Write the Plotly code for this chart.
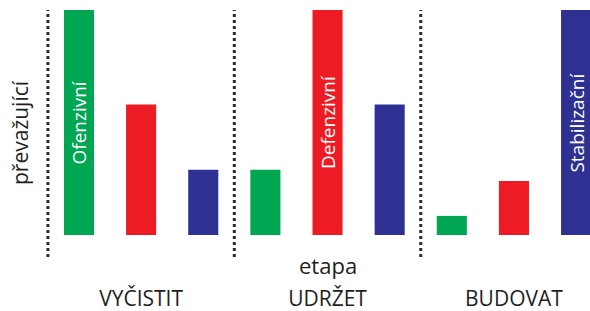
import plotly.graph_objects as go

stages = ["VYČISTIT", "UDRŽET", "BUDOVAT"]
series_names = ["Ofenzivní", "Defenzivní", "Stabilizační"]
green_vals = [100, 29, 8.5]
red_vals = [58, 100, 24]
blue_vals = [29, 58, 100]
colors = ["#00A651", "#ED1C24", "#2E3192"]
font_family = "Open Sans, Noto Sans, sans-serif"
text_color = "#231F20"

PLOT_H = 284  # plot area height in px (311 - bottom margin)
GROUP_GAP = 0.516

fig = go.Figure()
all_vals = [green_vals, red_vals, blue_vals]
for k, (name, vals, col) in enumerate(zip(series_names, all_vals, colors)):
    fig.add_trace(go.Bar(
        x=stages, y=vals, name=name, marker=dict(color=col, line=dict(width=0)),
        hoverinfo="skip",
    ))
    # label inside the tallest bar of each series
    i = vals.index(max(vals))
    fig.add_annotation(text=name, xref="x", yref="y", x=i + (k - 1) / 3, y=max(vals) / 2,
                       showarrow=False, textangle=-90,
                       font=dict(size=19, family=font_family, color="white"),
                       xanchor="center", yanchor="middle")

# dotted separators between stages
for xs in [-0.5, 0.5, 1.5]:
    fig.add_shape(type="line", xref="x", yref="y", x0=xs, x1=xs, y0=-9.8, y1=100,
                  line=dict(color="#2b2b2b", width=3, dash="3px,3px"))

fig.add_annotation(text="etapa", xref="x", yref="paper", x=1, y=(PLOT_H-265)/PLOT_H,
                   showarrow=False, font=dict(size=22, family=font_family, color=text_color),
                   yanchor="middle")
fig.add_annotation(text="převažující", xref="paper", yref="paper", x=20/590, y=(PLOT_H-133)/PLOT_H,
                   showarrow=False, textangle=-90,
                   font=dict(size=21, family=font_family, color=text_color),
                   xanchor="center", yanchor="middle")

fig.update_layout(
    width=590, height=311,
    margin=dict(l=0, r=0, t=0, b=311-PLOT_H),
    paper_bgcolor="white", plot_bgcolor="white",
    barmode="group", bargap=0, bargroupgap=GROUP_GAP,
    showlegend=False,
    xaxis=dict(range=[-0.757, 2.408], showgrid=False, zeroline=False, showline=False,
               automargin=False, ticks="",
               tickfont=dict(size=21, family=font_family, color=text_color)),
    yaxis=dict(range=[-(PLOT_H-235)/2.25, 100+10/2.25], visible=False, automargin=False),
)
fig.write_html("out.html", config={"displayModeBar": False},
               post_script="document.body.style.margin='0';document.body.style.overflow='hidden';")
